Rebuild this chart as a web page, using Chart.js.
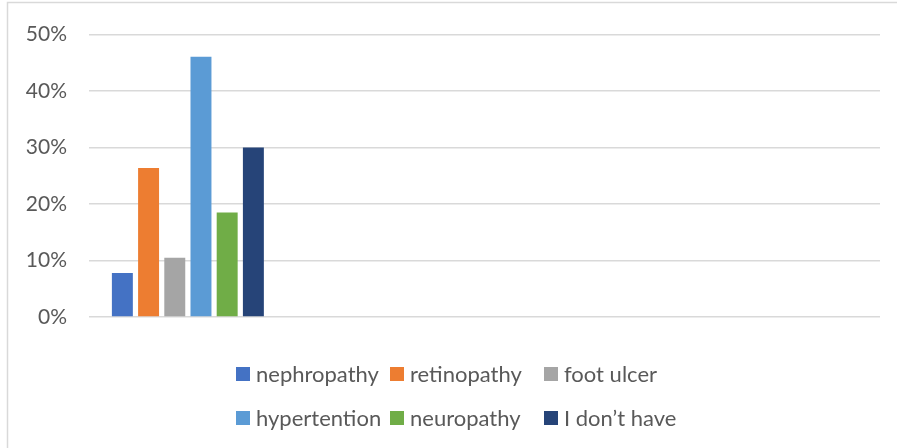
<!DOCTYPE html>
<html>
<head>
<meta charset="utf-8">
<script src="https://cdn.jsdelivr.net/npm/chart.js@4/dist/chart.umd.min.js"></script>
<style>
  html, body { margin: 0; padding: 0; background: #ffffff; }
  #wrap { width: 897px; height: 448px; position: relative; }
</style>
</head>
<body>
<div id="wrap"><canvas id="c" width="897" height="448"></canvas></div>
<script>
// ---- data ----
const categories = ['', '', '', ''];          // four category slots; only the first holds values
const seriesNames = ['nephropathy', 'retinopathy', 'foot ulcer', 'hypertention', 'neuropathy', 'I don\u2019t have'];
const seriesValues = [7.8, 26.4, 10.5, 46.1, 18.5, 30.0];   // percent
const seriesColors = ['#4472C4', '#ED7D31', '#A5A5A5', '#5B9BD5', '#70AD47', '#264478'];
const yTickValues = [0, 10, 20, 30, 40, 50];

const FONT = 'Lato, "Open Sans", sans-serif';
const TEXT = '#595959';
const GRID = '#d9d9d9';

const datasets = seriesNames.map((name, i) => ({
  label: name,
  data: categories.map((c, j) => (j === 0 ? seriesValues[i] : null)),
  backgroundColor: seriesColors[i],
  borderWidth: 0,
  categoryPercentage: 0.795,
  barPercentage: 0.80
}));

const frame = {
  id: 'frame',
  beforeDraw(chart) {
    const ctx = chart.ctx;
    ctx.save();
    ctx.fillStyle = '#ffffff';
    ctx.fillRect(0, 0, chart.width, chart.height);
    ctx.strokeStyle = GRID;
    ctx.lineWidth = 1.5;
    ctx.beginPath();
    ctx.moveTo(7.5, chart.height);
    ctx.lineTo(7.5, 2.5);
    ctx.lineTo(chart.width, 2.5);
    ctx.stroke();
    ctx.restore();
  }
};

const gridLegend = {
  id: 'gridLegend',
  afterDraw(chart) {
    const ctx = chart.ctx;
    const startX = 236, colW = 154, rowY = [374, 418], box = 14, gap = 6;
    ctx.save();
    ctx.font = '22px ' + FONT;
    ctx.textBaseline = 'middle';
    ctx.textAlign = 'left';
    chart.data.datasets.forEach((ds, i) => {
      const col = i % 3, row = Math.floor(i / 3);
      const x = startX + col * colW, y = rowY[row];
      ctx.fillStyle = ds.backgroundColor;
      ctx.fillRect(x, y - box / 2, box, box);
      ctx.fillStyle = TEXT;
      ctx.fillText(ds.label, x + box + gap, y + 1);
    });
    ctx.restore();
  }
};

new Chart(document.getElementById('c'), {
  type: 'bar',
  data: { labels: categories, datasets },
  options: {
    responsive: false,
    animation: false,
    devicePixelRatio: 1,
    layout: { padding: { left: 0, top: 31, right: 17, bottom: 131 } },
    plugins: { legend: { display: false }, tooltip: { enabled: false } },
    scales: {
      x: { display: false },
      y: {
        min: 0, max: 50,
        afterFit(s) { s.width = 89; },
        afterBuildTicks(s) { s.ticks = yTickValues.map(v => ({ value: v })); },
        border: { display: false },
        grid: { color: GRID, lineWidth: 1.5, drawTicks: false },
        ticks: {
          padding: 22,
          color: TEXT,
          font: { family: FONT, size: 21 },
          callback: v => v + '%'
        }
      }
    }
  },
  plugins: [frame, gridLegend]
});
</script>
</body>
</html>
